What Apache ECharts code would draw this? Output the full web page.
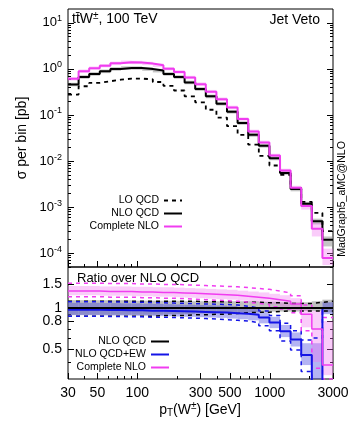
<!DOCTYPE html>
<html>
<head>
<meta charset="utf-8">
<script src="https://cdn.jsdelivr.net/npm/echarts@6/dist/echarts.min.js"></script>
<style>
html, body { margin: 0; padding: 0; background: #fff; }
#main { width: 357px; height: 430px; }
</style>
</head>
<body>
<div id="main"></div>
<script>
// bin edges of pT(W) [GeV]
var edges = [30, 36.07, 43.36, 52.13, 62.68, 75.36, 90.6, 108.9, 131.0, 157.5, 189.3, 227.6, 273.6,
    329.0, 395.6, 475.5, 571.7, 687.4, 826.4, 993.6, 1194.6, 1436.2, 1726.7, 2076, 2496, 3000];

// sigma per bin [pb]
var lo = [0.277, 0.42, 0.50, 0.54, 0.585, 0.615, 0.615, 0.595, 0.52, 0.43, 0.34, 0.254, 0.188, 0.13, 0.088,
    0.057, 0.037, 0.0226, 0.013, 0.008, 0.005, 0.0026, 0.0013, 0.00075, 0.0003];
var nlo = [0.46, 0.67, 0.78, 0.89, 1.0, 1.05, 1.05, 1.0, 0.92, 0.78, 0.67, 0.51, 0.367, 0.254, 0.176,
    0.118, 0.067, 0.037, 0.0215, 0.0115, 0.0055, 0.00246, 0.00118, 0.00049, 0.000195];
var nloBandLo = [0.42, 0.61, 0.71, 0.81, 0.91, 0.96, 0.96, 0.91, 0.84, 0.71, 0.61, 0.465, 0.334, 0.231, 0.16,
    0.107, 0.061, 0.0335, 0.0195, 0.0104, 0.005, 0.0022, 0.00105, 0.00042, 0.00014];
var nloBandHi = [0.5, 0.73, 0.85, 0.97, 1.09, 1.14, 1.14, 1.09, 1.0, 0.85, 0.73, 0.555, 0.4, 0.277, 0.192,
    0.129, 0.073, 0.0405, 0.0235, 0.0126, 0.006, 0.0027, 0.0013, 0.00056, 0.00023];
var cnlo = [0.61, 0.89, 1.04, 1.17, 1.32, 1.39, 1.38, 1.31, 1.2, 1.01, 0.86, 0.65, 0.466, 0.32, 0.22,
    0.146, 0.082, 0.044, 0.0254, 0.0132, 0.0062, 0.00263, 0.00106, 0.00034, 0.000078];
var cnloBandLo = [0.56, 0.82, 0.96, 1.08, 1.21, 1.28, 1.27, 1.21, 1.1, 0.93, 0.79, 0.6, 0.43, 0.295, 0.202,
    0.134, 0.075, 0.0405, 0.0233, 0.0121, 0.0057, 0.0024, 0.00088, 0.00023, 0.000055];
var cnloBandHi = [0.66, 0.97, 1.13, 1.28, 1.44, 1.52, 1.5, 1.43, 1.31, 1.1, 0.94, 0.71, 0.51, 0.35, 0.24,
    0.159, 0.089, 0.048, 0.0277, 0.0144, 0.0068, 0.0029, 0.0012, 0.00045, 0.000125];

// ratio over NLO QCD
var rNlo = [1, 1, 1, 1, 1, 1, 1, 1, 1, 1, 1, 1, 1, 1, 1, 1, 1, 1, 1, 1, 1, 1, 1, 1, 1];
var rNloLo = [0.89, 0.89, 0.89, 0.89, 0.89, 0.89, 0.89, 0.89, 0.89, 0.9, 0.9, 0.9, 0.91, 0.91, 0.92,
    0.92, 0.93, 0.93, 0.93, 0.94, 0.94, 0.94, 0.95, 0.95, 0.93];
var rNloHi = [1.14, 1.14, 1.14, 1.14, 1.14, 1.14, 1.13, 1.13, 1.13, 1.13, 1.13, 1.12, 1.12, 1.12, 1.12,
    1.12, 1.12, 1.12, 1.11, 1.11, 1.1, 1.1, 1.1, 1.12, 1.15];
var rNloDashLo = [0.87, 0.87, 0.87, 0.87, 0.87, 0.87, 0.87, 0.87, 0.88, 0.88, 0.88, 0.89, 0.89, 0.9, 0.9,
    0.91, 0.92, 0.93, 0.93, 0.94, 0.95, 0.95, 0.95, 0.95, 0.95];
var rNloDashHi = [1.12, 1.12, 1.12, 1.12, 1.12, 1.12, 1.12, 1.12, 1.12, 1.12, 1.12, 1.12, 1.11, 1.11, 1.11,
    1.1, 1.1, 1.1, 1.09, 1.09, 1.08, 1.08, 1.08, 1.1, 1.12];

var rEw = [0.97, 0.97, 0.97, 0.965, 0.965, 0.96, 0.96, 0.955, 0.955, 0.95, 0.945, 0.94, 0.935, 0.93, 0.925,
    0.915, 0.905, 0.89, 0.85, 0.78, 0.675, 0.585, 0.45, 0.25, 1.0];
var rEwLo = [0.885, 0.885, 0.885, 0.88, 0.88, 0.88, 0.875, 0.875, 0.87, 0.87, 0.865, 0.86, 0.855, 0.85, 0.845,
    0.835, 0.825, 0.81, 0.77, 0.71, 0.61, 0.52, 0.38, 0.2, 0.9];
var rEwHi = [1.09, 1.09, 1.09, 1.085, 1.085, 1.08, 1.08, 1.075, 1.07, 1.065, 1.06, 1.055, 1.05, 1.045, 1.04,
    1.03, 1.01, 0.98, 0.93, 0.86, 0.75, 0.66, 0.55, 0.55, 1.1];
var rEwDashLo = [0.87, 0.87, 0.87, 0.865, 0.865, 0.86, 0.86, 0.855, 0.855, 0.85, 0.845, 0.84, 0.835, 0.83, 0.82,
    0.81, 0.8, 0.78, 0.74, 0.68, 0.57, 0.49, 0.34, 0.2, 0.2];
var rEwDashHi = [1.11, 1.11, 1.11, 1.105, 1.105, 1.1, 1.1, 1.095, 1.09, 1.085, 1.08, 1.075, 1.07, 1.065, 1.06,
    1.05, 1.03, 1.0, 0.95, 0.88, 0.77, 0.68, 0.58, 0.6, 1.0];

var rCnlo = [1.33, 1.33, 1.33, 1.32, 1.32, 1.32, 1.31, 1.31, 1.30, 1.30, 1.29, 1.28, 1.27, 1.26, 1.25,
    1.24, 1.22, 1.20, 1.18, 1.15, 1.12, 1.07, 0.90, 0.70, 0.38];
var rCnloLo = [1.24, 1.24, 1.24, 1.23, 1.23, 1.23, 1.22, 1.22, 1.21, 1.21, 1.2, 1.19, 1.18, 1.17, 1.16,
    1.15, 1.13, 1.11, 1.09, 1.06, 1.02, 0.96, 0.72, 0.40, 0.32];
var rCnloHi = [1.45, 1.45, 1.45, 1.44, 1.44, 1.44, 1.43, 1.43, 1.42, 1.42, 1.41, 1.40, 1.39, 1.38, 1.37,
    1.36, 1.34, 1.32, 1.30, 1.27, 1.24, 1.18, 1.01, 0.95, 0.80];
var rCnloDashLo = [1.21, 1.21, 1.21, 1.2, 1.2, 1.2, 1.19, 1.19, 1.18, 1.18, 1.17, 1.16, 1.15, 1.14, 1.13,
    1.12, 1.1, 1.08, 1.06, 1.02, 0.98, 0.92, 0.68, 0.36, 0.3];
var rCnloDashHi = [1.52, 1.52, 1.52, 1.51, 1.51, 1.51, 1.5, 1.5, 1.49, 1.49, 1.48, 1.47, 1.46, 1.45, 1.44,
    1.43, 1.41, 1.39, 1.37, 1.33, 1.29, 1.23, 1.05, 1.0, 0.85];

// tick values
var xMajor = [30, 50, 100, 300, 500, 1000, 3000];
var xMinor = [40, 60, 70, 80, 90, 200, 400, 600, 700, 800, 900, 2000];
var yMajor = [1e-4, 1e-3, 1e-2, 1e-1, 1, 10];
var yMinor = [6e-5, 7e-5, 8e-5, 9e-5, 2e-4, 3e-4, 4e-4, 5e-4, 6e-4, 7e-4, 8e-4, 9e-4,
    2e-3, 3e-3, 4e-3, 5e-3, 6e-3, 7e-3, 8e-3, 9e-3, 0.02, 0.03, 0.04, 0.05, 0.06, 0.07, 0.08, 0.09,
    0.2, 0.3, 0.4, 0.5, 0.6, 0.7, 0.8, 0.9, 2, 3, 4, 5, 6, 7, 8, 9];
var rMajor = [0.5, 0.8, 1, 1.5];
var rMinor = [0.4, 0.6, 0.7, 0.9, 2];

var magenta = '#f03cf0';
var blue = '#1414e6';
var font = 'Liberation Sans';

// histogram as a stepped line
function stepData(vals) {
    var d = [];
    for (var i = 0; i < vals.length; i++) {
        d.push([edges[i], vals[i]]);
    }
    d.push([edges[vals.length], vals[vals.length - 1]]);
    return d;
}

function stepLine(name, vals, color, width, dash, grid, z) {
    return {
        name: name,
        type: 'line',
        xAxisIndex: grid * 2,
        yAxisIndex: grid * 4,
        step: 'end',
        symbol: 'none',
        data: stepData(vals),
        z: z,
        lineStyle: { color: color, width: width, type: dash ? [4, 4] : 'solid' },
        itemStyle: { color: color }
    };
}

// one rectangle per bin between lo and hi
function band(loVals, hiVals, color, grid, z) {
    var d = loVals.map(function (v, i) {
        return [edges[i], edges[i + 1], v, hiVals[i]];
    });
    return {
        type: 'custom',
        xAxisIndex: grid * 2,
        yAxisIndex: grid * 4,
        data: d,
        z: z,
        silent: true,
        encode: { x: [0, 1], y: [2, 3] },
        renderItem: function (params, api) {
            var a = api.coord([api.value(0), api.value(3)]);
            var b = api.coord([api.value(1), api.value(2)]);
            var shape = echarts.graphic.clipRectByRect(
                { x: a[0], y: a[1], width: b[0] - a[0], height: b[1] - a[1] },
                { x: params.coordSys.x, y: params.coordSys.y, width: params.coordSys.width, height: params.coordSys.height });
            return shape && { type: 'rect', shape: shape, style: { fill: color } };
        }
    };
}

function xAxes(grid, labels) {
    var base = { type: 'log', logBase: 10, gridIndex: grid, min: 30, max: 3000, position: 'bottom',
        axisLine: { show: false }, splitLine: { show: false } };
    return [
        Object.assign({}, base, {
            axisTick: { inside: true, length: 6, lineStyle: { color: '#000' }, customValues: xMajor },
            axisLabel: { show: labels, customValues: xMajor, color: '#000', fontSize: 14, fontFamily: font, margin: 7,
                formatter: function (v) { return String(v); } }
        }),
        Object.assign({}, base, {
            axisTick: { inside: true, length: 3, lineStyle: { color: '#000' }, customValues: xMinor },
            axisLabel: { show: false }
        })
    ];
}

function yAxes(grid, min, max, major, minor, label) {
    var base = { type: 'log', logBase: 10, gridIndex: grid, min: min, max: max,
        axisLine: { show: false }, splitLine: { show: false } };
    var list = [];
    ['left', 'right'].forEach(function (pos) {
        list.push(Object.assign({}, base, {
            position: pos,
            axisTick: { inside: true, length: 6, lineStyle: { color: '#000' }, customValues: major },
            axisLabel: pos == 'left' ? label : { show: false }
        }));
        list.push(Object.assign({}, base, {
            position: pos,
            axisTick: { inside: true, length: 3, lineStyle: { color: '#000' }, customValues: minor },
            axisLabel: { show: false }
        }));
    });
    return list;
}

var chart = echarts.init(document.getElementById('main'));

var legendBase = {
    orient: 'vertical', align: 'right',
    itemWidth: 18, itemHeight: 9, itemGap: 2,
    itemStyle: { opacity: 0 },
    textStyle: { fontSize: 10.5, fontFamily: font, color: '#000' }
};

var option = {
    animation: false,
    backgroundColor: '#fff',
    grid: [
        { left: 68, top: 9, width: 265, height: 258, show: true, borderColor: '#000', borderWidth: 1 },
        { left: 68, top: 267, width: 265, height: 112, show: true, borderColor: '#000', borderWidth: 1 }
    ],
    xAxis: xAxes(0, false).concat(xAxes(1, true)),
    yAxis: yAxes(0, 5e-5, 20, yMajor, yMinor, {
        customValues: yMajor, color: '#000', fontFamily: font, fontSize: 13, margin: 6,
        formatter: function (v) {
            return '10{s|' + Math.round(Math.log10(v)) + '}';
        },
        rich: { s: { fontSize: 9, fontFamily: font, verticalAlign: 'top', padding: [0, 0, 8, 0] } }
    }).concat(yAxes(1, 0.3, 2, rMajor, rMinor, {
        customValues: rMajor, color: '#000', fontFamily: font, fontSize: 14, margin: 6
    })),
    legend: [
        Object.assign({}, legendBase, {
            data: ['LO QCD', 'NLO QCD', 'Complete NLO'],
            right: 169, top: 190
        }),
        Object.assign({}, legendBase, {
            data: ['NLO QCD', 'NLO QCD+EW', 'Complete NLO'],
            right: 182, top: 331
        })
    ],
    graphic: [
        { type: 'text', left: 72, top: 11, style: { text: 'tt\u0304W{s|\u00b1}, 100 TeV', font: '14px "Liberation Sans"', fill: '#000',
            rich: { s: { fontSize: 10, fontFamily: font, verticalAlign: 'top', padding: [0, 0, 7, 0] } } } },
        { type: 'text', right: 37, top: 13, style: { text: 'Jet Veto', font: '14px "Liberation Sans"', fill: '#000' } },
        { type: 'text', left: 77, top: 272, style: { text: 'Ratio over NLO QCD', font: '13px "Liberation Sans"', fill: '#000' } },
        { type: 'text', x: 342, y: 199, rotation: Math.PI / 2,
            style: { text: 'MadGraph5_aMC@NLO', font: '10.5px "Liberation Sans"', fill: '#000', align: 'center', verticalAlign: 'middle' } },
        { type: 'text', x: 22, y: 138, rotation: Math.PI / 2,
            style: { text: '\u03c3 per bin [pb]', font: '14px "Liberation Sans"', fill: '#000', align: 'center', verticalAlign: 'middle' } },
        { type: 'text', x: 200, y: 410,
            style: { text: 'p{b|T}(W{s|\u00b1}) [GeV]', font: '14px "Liberation Sans"', fill: '#000', align: 'center', verticalAlign: 'middle',
                rich: { b: { fontSize: 10, fontFamily: font, verticalAlign: 'bottom', padding: [6, 0, 0, 0] },
                    s: { fontSize: 10, fontFamily: font, verticalAlign: 'top', padding: [0, 0, 7, 0] } } } }
    ],
    series: [
        // top panel
        band(nloBandLo, nloBandHi, 'rgba(140,140,140,0.5)', 0, 1),
        band(cnloBandLo, cnloBandHi, 'rgba(240,110,240,0.35)', 0, 1),
        stepLine('LO QCD', lo, '#000', 1.8, true, 0, 3),
        stepLine('NLO QCD', nlo, '#000', 2, false, 0, 3),
        stepLine('Complete NLO', cnlo, magenta, 2, false, 0, 4),
        // ratio panel
        band(rNloLo, rNloHi, 'rgba(140,140,140,0.55)', 1, 1),
        band(rEwLo, rEwHi, 'rgba(40,40,220,0.35)', 1, 1),
        band(rCnloLo, rCnloHi, 'rgba(240,110,240,0.35)', 1, 1),
        stepLine('nlo dash lo', rNloDashLo, '#000', 1.5, true, 1, 2),
        stepLine('nlo dash hi', rNloDashHi, '#000', 1.5, true, 1, 2),
        stepLine('ew dash lo', rEwDashLo, blue, 1.5, true, 1, 2),
        stepLine('ew dash hi', rEwDashHi, blue, 1.5, true, 1, 2),
        stepLine('cnlo dash lo', rCnloDashLo, magenta, 1.5, true, 1, 2),
        stepLine('cnlo dash hi', rCnloDashHi, magenta, 1.5, true, 1, 2),
        stepLine('NLO QCD+EW', rEw, blue, 2, false, 1, 3),
        stepLine('Complete NLO', rCnlo, magenta, 1.5, false, 1, 3),
        stepLine('NLO QCD', rNlo, '#000', 2, false, 1, 4)
    ]
};

chart.setOption(option);
</script>
</body>
</html>
